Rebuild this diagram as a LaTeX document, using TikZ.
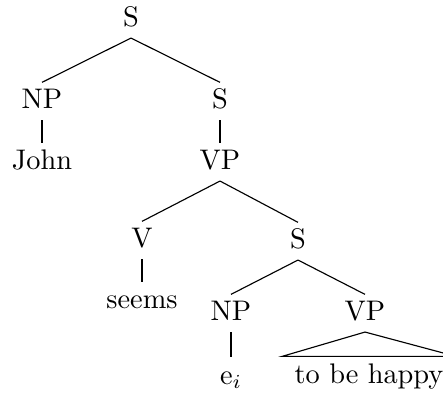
\documentclass[tikz,border=0pt]{standalone}
\usepackage{tikz}
\tikzset{
  cat/.style={inner xsep=1pt, inner ysep=2.2pt, text height=7pt, text depth=1.5pt, anchor=base},
  roof/.style={cat, inner xsep=4.2pt},
  branch/.style={draw=black, line width=0.4pt}
}
\begin{document}
\begin{tikzpicture}[x=0.353pt,y=-0.353pt]
  \useasboundingbox (0,0) rectangle (443,396);
  % categories, placed on their baselines
  \node[cat] (s0) at (131,27) {S};
  \node[cat] (np1) at (42,109) {NP};
  \node[cat] (s1) at (220,109) {S};
  \node[cat] (john) at (42,170) {John};
  \node[cat] (vp1) at (220,170) {VP};
  \node[cat] (v) at (142,248) {V};
  \node[cat] (s2) at (298,249) {S};
  \node[cat] (seems) at (142,309) {seems};
  \node[cat] (np2) at (231,321) {NP};
  \node[cat] (vp2) at (365,321) {VP};
  \node[cat] (ei) at (231,384) {e$_i$};
  \node[roof] (happy) at (369,383) {to be happy};
  % branches
  \draw[branch] (s0.south) -- (np1.north);
  \draw[branch] (s0.south) -- (s1.north);
  \draw[branch] (np1.south) -- (john.north);
  \draw[branch] (s1.south) -- (vp1.north);
  \draw[branch] (vp1.south) -- (v.north);
  \draw[branch] (vp1.south) -- (s2.north);
  \draw[branch] (v.south) -- (seems.north);
  \draw[branch] (s2.south) -- (np2.north);
  \draw[branch] (s2.south) -- (vp2.north);
  \draw[branch] (np2.south) -- (ei.north);
  \draw[branch] (vp2.south) -- (happy.north west) -- (happy.north east) -- cycle;
\end{tikzpicture}
\end{document}
